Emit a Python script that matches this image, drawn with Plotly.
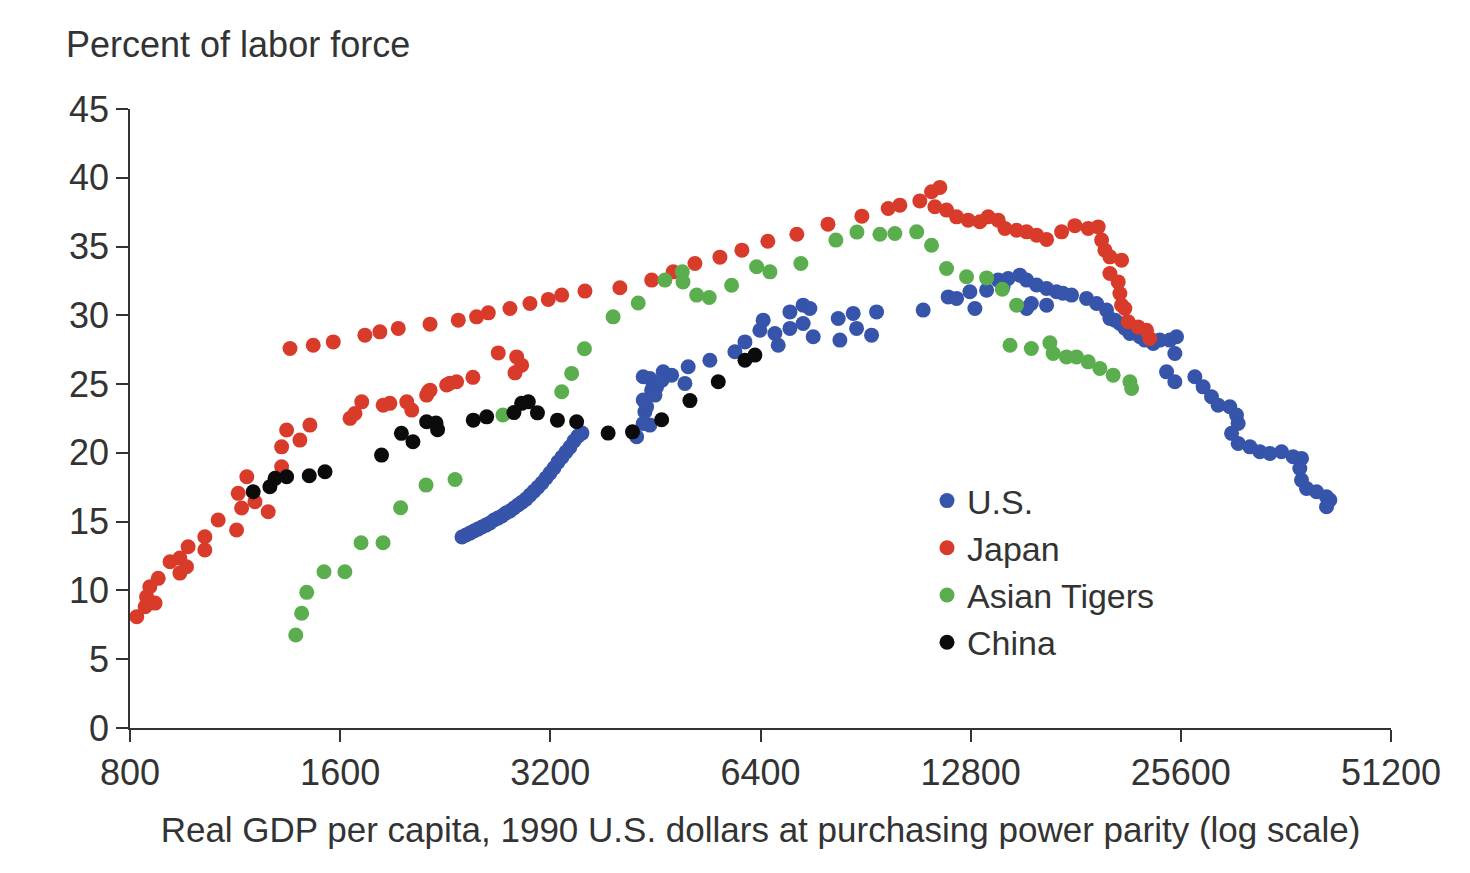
import plotly.graph_objects as go

# ---------------- data ----------------
us_gdp = [2391, 2423, 2455, 2487, 2520, 2554, 2588, 2622, 2657, 2692, 2728, 2764, 2801, 2838,
          2876, 2914, 2953, 2992, 3032, 3072, 3112, 3154, 3196, 3238, 3281, 3325, 3369, 3414,
          3459, 3505, 3552,
          4254, 4443, 4371, 4347, 4470, 4443, 4643, 4543, 4774, 4988, 5042, 5416, 5882, 6080,
          6387, 6457, 6711, 6785, 7052, 7052, 7366, 7532, 7366, 7615, 8270, 8316, 8689, 8786,
          9231, 9385, 4347, 4396, 4347, 4519, 4625,
          10944, 11886, 12219, 12766, 12980, 13491, 14015, 14486, 15053, 15395, 15911, 16442,
          16988, 17853, 18757, 19387, 20037, 20259, 20938, 21642, 15634, 15395, 16442, 14242,
          22368, 23371, 24688, 25238, 25100, 24424, 25100, 26811, 27553, 28326, 28949, 30088,
          30763, 30927, 30262, 30927, 32151, 33229, 34342, 35684, 37075, 38117, 37903, 38117,
          38748, 40051, 41393, 41850, 41393,
          17350, 20596, 21285, 22737, 23888]
us_pct = [13.88, 14.03, 14.17, 14.32, 14.46, 14.61, 14.75, 14.90, 15.12, 15.26, 15.41, 15.63,
          15.77, 15.99, 16.21, 16.42, 16.64, 16.93, 17.22, 17.51, 17.81, 18.17, 18.53, 18.90,
          19.33, 19.69, 20.06, 20.42, 20.86, 21.22, 21.44,
          21.17, 22.02, 22.99, 23.84, 24.56, 25.41, 25.89, 24.80, 25.65, 25.05, 26.26, 26.74,
          27.35, 28.07, 28.92, 29.65, 28.68, 27.83, 29.05, 30.25, 30.74, 30.50, 29.41, 28.44,
          29.77, 28.20, 30.14, 29.05, 28.56, 30.25, 25.53, 23.35, 22.14, 24.20, 25.29,
          30.38, 31.34, 31.23, 31.71, 30.50, 31.83, 32.56, 32.68, 32.92, 32.56, 32.20, 31.95,
          31.71, 31.47, 31.23, 30.86, 30.38, 29.77, 29.41, 28.68, 30.86, 30.50, 30.74, 32.07,
          28.44, 27.96, 28.20, 28.44, 27.23, 25.89, 25.17, 25.53, 24.80, 24.08, 23.47, 23.35,
          22.75, 22.14, 21.42, 20.69, 20.44, 20.08, 19.96, 20.08, 19.72, 19.60, 18.87, 18.02,
          17.42, 17.17, 16.81, 16.57, 16.08,
          31.61, 29.65, 29.07, 28.20, 28.20]

japan_gdp = [818, 841, 845, 854, 869, 878, 913, 943, 943, 969, 964, 1024, 1024, 1070, 1137,
             1156, 1143, 1176, 1208, 1262, 1319, 1319, 1341, 1401, 1448, 1653, 1718, 1844, 1993,
             2026, 2140, 2298, 2479, 2349, 2273, 2152, 2128, 1885, 1680, 2695, 2864, 2911, 2848,
             1356, 1464, 1564, 1736, 1824, 1938, 2152, 2362, 2509, 2608, 2801, 2992, 3178, 3322,
             3587, 4025, 4470, 4799, 5155, 5598, 6019, 6557, 7215, 7995, 8941, 9752, 10134,
             10825, 11250, 11564, 11375, 11823, 12219, 12696, 13192, 13560, 14015, 14330, 14893,
             15395, 15911, 16442, 17276, 18050, 18860, 19495, 19713, 19929, 20259, 21055, 20259,
             20821, 20938, 21055, 21517, 22237, 22862, 23112, 21285]
japan_pct = [8.09, 8.82, 9.54, 10.27, 9.08, 10.88, 12.09, 11.26, 12.35, 13.18, 11.72, 13.90,
             12.94, 15.12, 14.39, 15.99, 17.06, 18.26, 16.45, 15.72, 18.99, 20.44, 21.66, 20.93,
             22.02, 22.51, 23.71, 23.47, 23.71, 23.11, 24.44, 25.07, 25.49, 25.17, 24.93, 24.56,
             24.20, 23.60, 22.87, 27.27, 26.98, 26.38, 25.82,
             27.59, 27.83, 28.07, 28.56, 28.80, 29.05, 29.36, 29.65, 29.89, 30.18, 30.50, 30.86,
             31.16, 31.47, 31.76, 32.00, 32.56, 33.16, 33.77, 34.23, 34.74, 35.39, 35.90, 36.63,
             37.21, 37.77, 38.01, 38.32, 38.98, 39.30, 37.89, 37.65, 37.16, 36.92, 36.80, 37.16,
             36.92, 36.32, 36.19, 36.07, 35.83, 35.52, 36.07, 36.52, 36.32, 36.43, 35.47, 34.74,
             34.25, 34.01, 33.04, 32.43, 31.59, 30.74, 29.53, 29.16, 28.92, 28.32, 30.50]

tigers_gdp = [1382, 1409, 1433, 1517, 1625, 1714, 1843, 1953, 2124, 2337, 2737, 3322, 3433,
              3581, 3936, 4276, 4669, 4945, 4956, 5185, 5404, 5818, 6318, 6602, 7311, 8207,
              8796, 9489, 9969, 10712, 11250, 11823, 12627, 13491, 14208, 14893, 14572, 15634,
              16622, 16803, 17558, 18147, 18860, 19598, 20480, 21642, 21764]
tigers_pct = [6.76, 8.34, 9.86, 11.36, 11.36, 13.47, 13.47, 16.01, 17.66, 18.07, 22.75, 24.44,
              25.78, 27.57, 29.89, 30.90, 32.56, 33.16, 32.43, 31.47, 31.30, 32.19, 33.53, 33.16,
              33.77, 35.47, 36.05, 35.90, 35.95, 36.07, 35.10, 33.41, 32.80, 32.72, 31.90, 30.74,
              27.83, 27.59, 28.00, 27.23, 26.98, 26.98, 26.62, 26.14, 25.65, 25.17, 24.69]

china_gdp = [1201, 1269, 1291, 1341, 1445, 1522, 1834, 1958, 2034, 2128, 2206, 2195, 2482,
             2594, 2838, 2911, 2976, 3067, 3276, 3490, 3872, 4196, 4619, 5071, 5568, 6080, 6283]
china_pct = [17.17, 17.54, 18.15, 18.26, 18.34, 18.63, 19.84, 21.42, 20.81, 22.26, 21.69, 22.17,
             22.38, 22.62, 22.93, 23.60, 23.71, 22.91, 22.38, 22.26, 21.44, 21.53, 22.41, 23.80,
             25.17, 26.74, 27.11]

x_ticks = [800, 1600, 3200, 6400, 12800, 25600, 51200]
x_tick_labels = ["800", "1600", "3200", "6400", "12800", "25600", "51200"]
y_ticks = [0, 5, 10, 15, 20, 25, 30, 35, 40, 45]

series = [
    ("U.S.", us_gdp, us_pct, "#3654aa"),
    ("Japan", japan_gdp, japan_pct, "#d93b2b"),
    ("Asian Tigers", tigers_gdp, tigers_pct, "#5aae4e"),
    ("China", china_gdp, china_pct, "#0b0b0b"),
]

FONT = "Liberation Sans, Arial, sans-serif"
TXT = "#333333"

fig = go.Figure()
for name, xs, ys, col in series:
    fig.add_trace(go.Scatter(
        x=xs, y=ys, mode="markers", name=name,
        marker=dict(size=15, color=col, line=dict(width=0)),
    ))

# page coordinates: the page body adds an 8 px offset
OFF = 8
W, H = 1470 - OFF, 873 - OFF
PL, PR, PT, PB = 130, 1391, 109, 728   # plot area in page pixels
L, T = PL - OFF, PT - OFF
R, B = W - (PR - OFF), H - (PB - OFF)
pw, ph = PR - PL, PB - PT

def px_x(p):
    return (p - PL) / pw

def px_y(p):
    return (PB - p) / ph

fig.update_layout(
    width=W, height=H,
    margin=dict(l=L, r=R, t=T, b=B, pad=0),
    paper_bgcolor="#e9e9e9",
    plot_bgcolor="rgba(0,0,0,0)",
    font=dict(family=FONT, size=36, color=TXT),
    showlegend=True,
    legend=dict(
        x=px_x(927), y=px_y(472), xanchor="left", yanchor="top",
        bgcolor="rgba(0,0,0,0)", borderwidth=0,
        font=dict(family=FONT, size=34, color=TXT),
        itemsizing="trace", tracegroupgap=0,
    ),
    shapes=[dict(
        type="rect", xref="paper", yref="paper", layer="below",
        x0=px_x(OFF - 2), x1=px_x(1462), y0=px_y(890), y1=px_y(OFF - 2),
        fillcolor="white", line=dict(width=0),
    )],
    annotations=[dict(
        text="Percent of labor force", xref="paper", yref="paper",
        x=px_x(64), y=px_y(44), xanchor="left", yanchor="middle",
        showarrow=False, font=dict(family=FONT, size=36, color=TXT),
    )],
)

fig.update_xaxes(
    type="log",
    range=[2.903090, 4.709270],
    tickvals=x_ticks, ticktext=x_tick_labels,
    ticks="outside", ticklen=12, tickwidth=1.5, tickcolor="#333333",
    showline=True, linecolor="#333333", linewidth=1.5,
    showgrid=False, zeroline=False,
    tickfont=dict(family=FONT, size=36, color=TXT),
    title=dict(text="Real GDP per capita, 1990 U.S. dollars at purchasing power parity (log scale)",
               font=dict(family=FONT, size=35, color=TXT), standoff=26),
)
fig.update_yaxes(
    range=[0, 45],
    tickvals=y_ticks,
    ticks="outside", ticklen=12, tickwidth=1.5, tickcolor="#333333",
    showline=True, linecolor="#333333", linewidth=1.5,
    showgrid=False, zeroline=False,
    tickfont=dict(family=FONT, size=36, color=TXT),
)

fig.write_html("out.html")
